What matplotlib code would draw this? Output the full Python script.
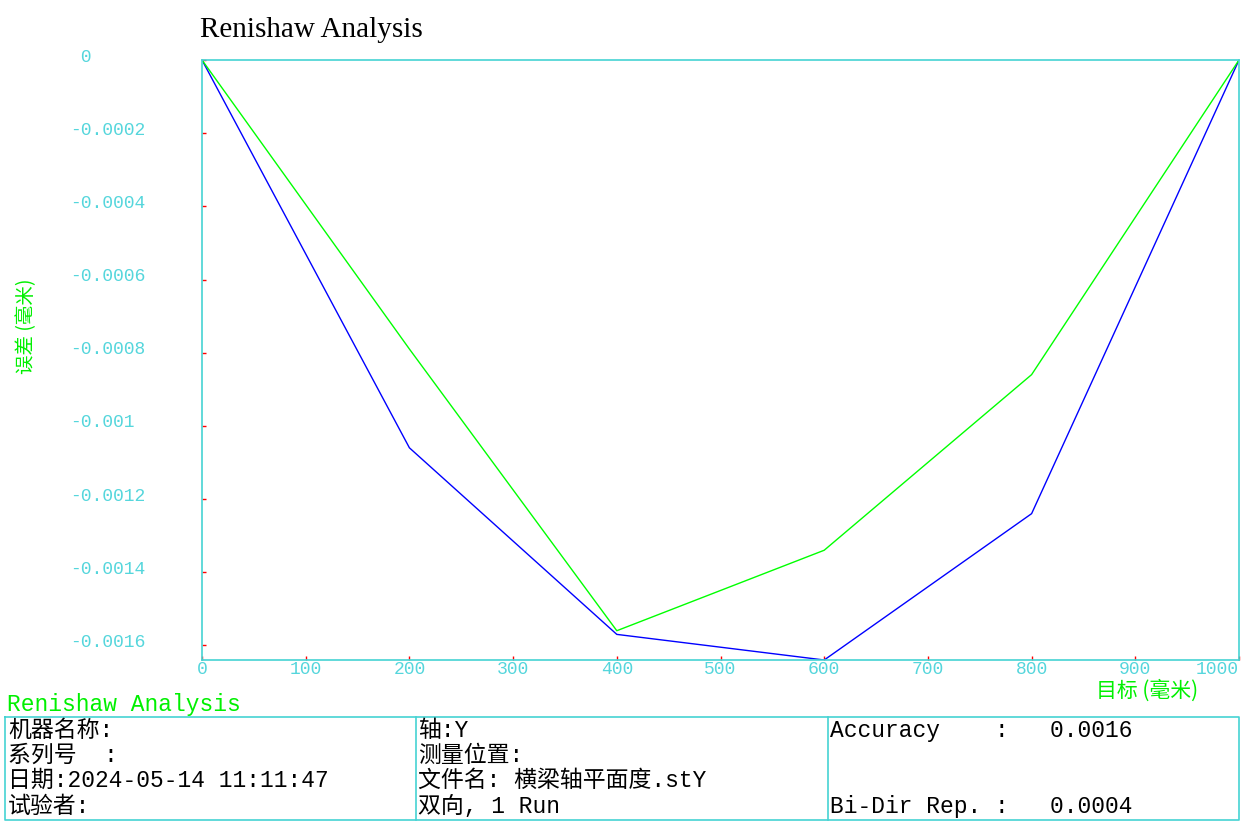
import numpy as np
import matplotlib
matplotlib.use("Agg")
import matplotlib.pyplot as plt
import matplotlib.transforms as mtransforms
from matplotlib.lines import Line2D

# data
targets = [0, 200, 400, 600, 800, 1000]
err_fwd = [0.0, -0.00079, -0.00156, -0.00134, -0.00086, 0.0]    # green
err_rev = [0.0, -0.00106, -0.00157, -0.00164, -0.00124, 0.0]    # blue
x_ticks = list(range(0, 1001, 100))
y_ticks = [0, -0.0002, -0.0004, -0.0006, -0.0008, -0.001, -0.0012, -0.0014, -0.0016]
y_tick_labels = [" 0", "-0.0002", "-0.0004", "-0.0006", "-0.0008", "-0.001",
                 "-0.0012", "-0.0014", "-0.0016"]

info_col1 = ["机器名称:", "系列号  :", "日期:2024-05-14 11:11:47", "试验者:"]
info_col2 = ["轴:Y", "测量位置:", "文件名: 横梁轴平面度.stY", "双向, 1 Run"]
info_col3 = ["Accuracy    :   0.0016", "", "", "Bi-Dir Rep. :   0.0004"]

W, H = 1241, 821
CYAN = "#45d3d3"
TICK_TXT = "#55d6dc"
GREEN = "#00f000"
MONO = ["Liberation Mono", "Noto Sans CJK SC", "DejaVu Sans"]
CJK = ["Noto Sans CJK SC", "DejaVu Sans"]


def fx(px):
    return px / W


def fy(py):
    return 1 - py / H


fig = plt.figure(figsize=(W / 100, H / 100), dpi=100)
fig.patch.set_facecolor("white")

ax = fig.add_axes([fx(202), fy(660), fx(1239) - fx(202), fy(60) - fy(660)])
ax.plot(targets, err_rev, color="#0000ff", lw=1.0)
ax.plot(targets, err_fwd, color="#00ff00", lw=1.0)
ax.set_xlim(0, 1000)
ax.set_ylim(min(err_rev + err_fwd), 0)

for side in ["left", "right", "top", "bottom"]:
    ax.spines[side].set_color(CYAN)
    ax.spines[side].set_linewidth(1.2)

ax.set_xticks(x_ticks)
ax.set_xticklabels([str(t) for t in x_ticks], family=MONO, fontsize=13, color=TICK_TXT)
ax.set_yticks(y_ticks)
ax.set_yticklabels(y_tick_labels, family=MONO, fontsize=13, color=TICK_TXT, ha="left")
ax.tick_params(axis="both", direction="in", length=3, width=1, color="red")
ax.tick_params(axis="y", pad=(202 - 70) * 0.72)
ax.tick_params(axis="x", pad=1)
ax.get_xticklabels()[-1].set_ha("right")
shift_up = mtransforms.ScaledTranslation(0, 5 / 100, fig.dpi_scale_trans)
for lab in ax.get_yticklabels():
    lab.set_transform(lab.get_transform() + shift_up)

# title
fig.text(fx(200), fy(30), "Renishaw Analysis", family=["Liberation Serif", "DejaVu Serif"],
         fontsize=21, color="black", va="center", ha="left")

# axis labels
fig.text(fx(27), fy(326), "误差 (毫米)", family=CJK,
         fontsize=14, color=GREEN, rotation=90, ha="center", va="center")
fig.text(fx(1147), fy(691), "目标 (毫米)", family=CJK,
         fontsize=15, color=GREEN, ha="center", va="center")

# footer
fig.text(fx(7), fy(704), "Renishaw Analysis", family=MONO, fontsize=16.5, color=GREEN,
         ha="left", va="center")

box = [(5, 717), (1239, 717), (1239, 820), (5, 820), (5, 717)]
fig.add_artist(Line2D([fx(p[0]) for p in box], [fy(p[1]) for p in box], color=CYAN, lw=1.2))
for xv in [416, 828]:
    fig.add_artist(Line2D([fx(xv), fx(xv)], [fy(717), fy(820)], color=CYAN, lw=1.2))

rows_y = [730, 755, 780, 806]
for col_x, col in zip([8, 418, 830], [info_col1, info_col2, info_col3]):
    for yv, txt in zip(rows_y, col):
        if txt:
            fig.text(fx(col_x), fy(yv), txt, family=MONO, fontsize=16.5, color="black",
                     ha="left", va="center")

fig.savefig("out.png", dpi=100)
